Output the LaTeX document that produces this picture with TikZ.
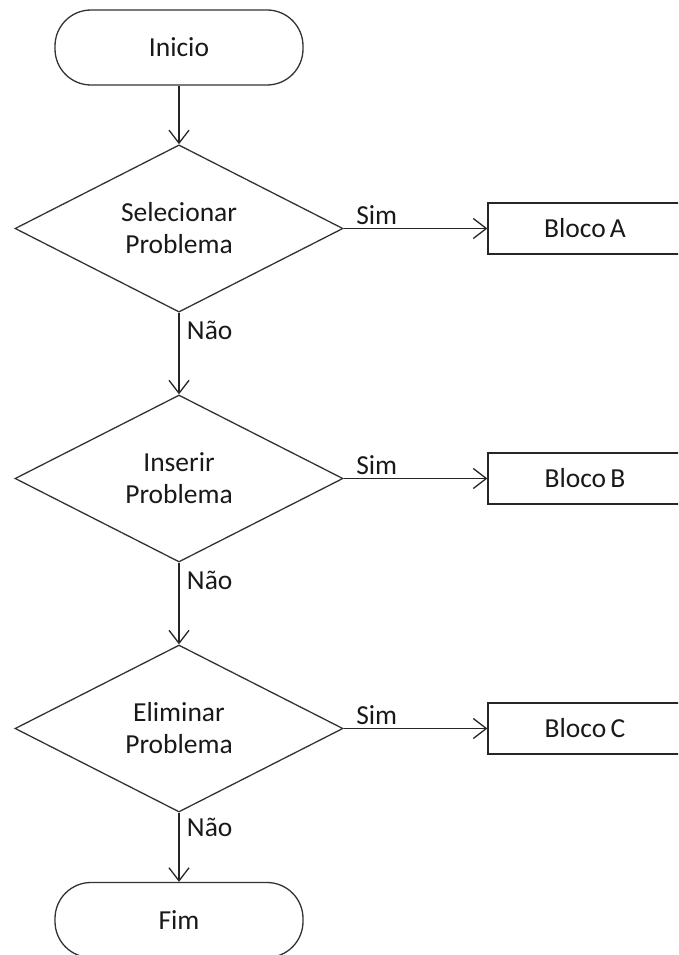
\documentclass[tikz,border=0pt]{standalone}
\usepackage{fontspec}
\setmainfont{Carlito}
\usetikzlibrary{arrows.meta,shapes.geometric}
\tikzset{
    every node/.style={font=\fontsize{27.5}{32}\selectfont, text=black!90},
    terminal/.style={draw=black!80, line width=1.3pt, rounded corners=36pt, minimum width=248pt, minimum height=75pt},
    decision/.style={draw=black!80, line width=1.3pt, diamond, align=center, minimum width=328pt, minimum height=167pt, inner sep=0pt},
    block/.style={draw=black!85, line width=1.3pt, minimum width=194pt, minimum height=51pt},
    flow/.style={draw=black!85, line width=1.3pt, -{Straight Barb[length=13pt,width=20pt,line width=1.3pt]}}
}

\begin{document}
\begin{tikzpicture}[x=1pt,y=-1pt]
\useasboundingbox (0,0) rectangle (678,955);
\clip (0,0) rectangle (678,955);
\node[terminal] (ini) at (179,47.5) {Inicio};
\foreach \txt/\blk[count=\i] in {Selecionar/A,Inserir/B,Eliminar/C}{
    \node[decision] (d\i) at (179,{228.5+(\i-1)*250}) {\txt\\Problema};
    \node[block] (b\i) at (585,{228.5+(\i-1)*250}) {Bloco\kern-2pt\ \blk};
    \draw[flow] (d\i) -- node[above,pos=.23]{Sim} (b\i);
}
\node[terminal] (fim) at (179,920) {Fim};
\draw[flow] (ini) -- (d1);
\draw[flow] (d1) -- node[right=4pt,pos=.22]{Não} (d2);
\draw[flow] (d2) -- node[right=4pt,pos=.22]{Não} (d3);
\draw[flow] (d3) -- node[right=4pt,pos=.22]{Não} (fim);
\end{tikzpicture}
\end{document}
